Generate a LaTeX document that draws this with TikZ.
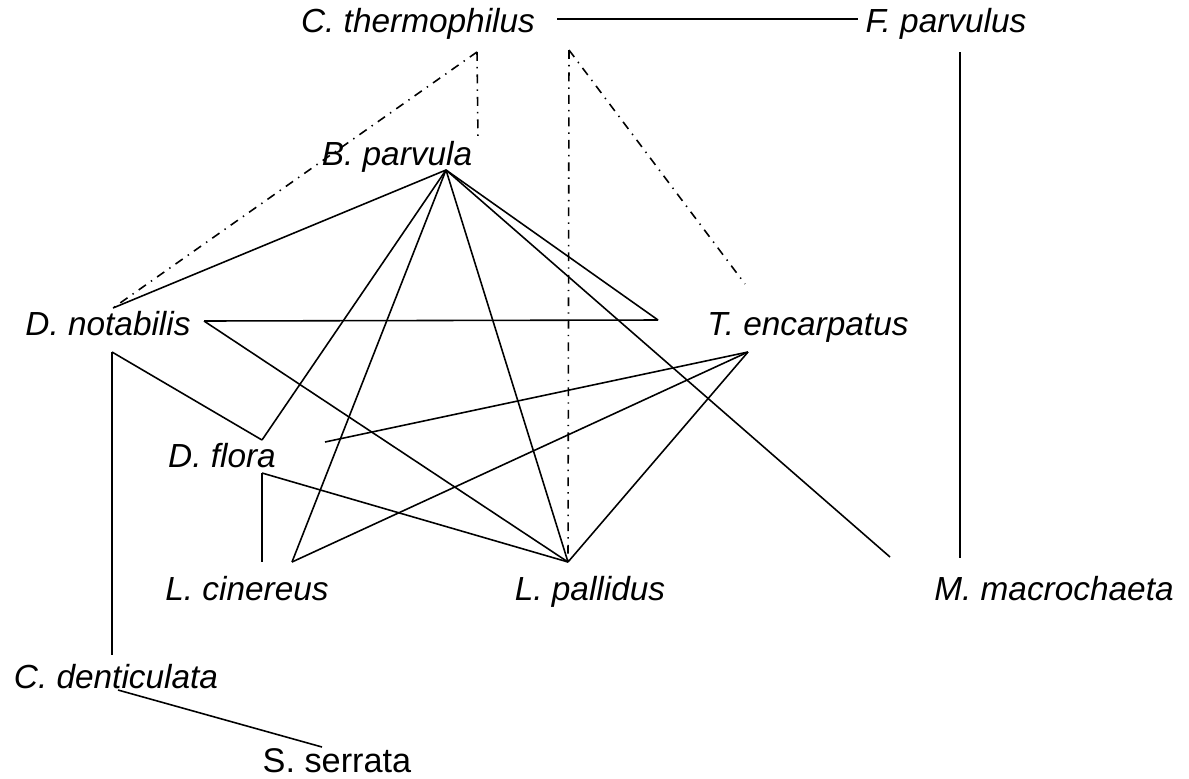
\documentclass[tikz,border=0pt]{standalone}
\usepackage{fontspec}
\setmainfont{Liberation Sans}
\begin{document}
\begin{tikzpicture}[x=0.02cm, y=-0.02cm, line width=0.9pt,
  taxon/.style={font=\fontsize{19}{22}\selectfont\itshape, anchor=base, inner sep=0pt},
  dashdot/.style={dash pattern=on 5pt off 3.5pt on 0.8pt off 3.5pt}]
  \useasboundingbox (0,0) rectangle (1189,778);
  % species labels
  \node[taxon] (therm) at (418,32) {C. thermophilus};
  \node[taxon] (fparv) at (946,32) {F. parvulus};
  \node[taxon] (bparv) at (397,165) {B. parvula};
  \node[taxon] (dnot) at (108,335) {D. notabilis};
  \node[taxon] (tenc) at (808,335) {T. encarpatus};
  \node[taxon] (dflo) at (222,467) {D. flora};
  \node[taxon] (lcin) at (247,600) {L. cinereus};
  \node[taxon] (lpal) at (590,600) {L. pallidus};
  \node[taxon] (mmac) at (1054,600) {M. macrochaeta};
  \node[taxon] (cden) at (116,688) {C. denticulata};
  \node[taxon, font=\fontsize{19.5}{22}\selectfont] (sser) at (337,772) {S. serrata};
  % line ends
  \coordinate (therm-r) at (557,19);
  \coordinate (therm-a) at (477,52);
  \coordinate (therm-b) at (569,50);
  \coordinate (fparv-l) at (858,19);
  \coordinate (fparv-b) at (960,52);
  \coordinate (bparv-t) at (478,140);
  \coordinate (bparv-b) at (446,170);
  \coordinate (dnot-t) at (113,308);
  \coordinate (dnot-r) at (204,321);
  \coordinate (dnot-b) at (112,352);
  \coordinate (tenc-t) at (745,284);
  \coordinate (tenc-l) at (658,320);
  \coordinate (tenc-b) at (748,352);
  \coordinate (dflo-t) at (262,440);
  \coordinate (dflo-r) at (325,442);
  \coordinate (dflo-b) at (262,473);
  \coordinate (lcin-l) at (262,562);
  \coordinate (lcin-t) at (292,562);
  \coordinate (lpal-t) at (568,562);
  \coordinate (mmac-l) at (890,557);
  \coordinate (mmac-t) at (960,558);
  \coordinate (cden-t) at (112,655);
  \coordinate (cden-b) at (118,690);
  \coordinate (sser-t) at (322,747);
  % solid links
  \draw (therm-r) -- (fparv-l);
  \draw (fparv-b) -- (mmac-t);
  \draw (bparv-b) -- (dnot-t);
  \draw (bparv-b) -- (dflo-t);
  \draw (bparv-b) -- (lcin-t);
  \draw (bparv-b) -- (lpal-t);
  \draw (bparv-b) -- (tenc-l);
  \draw (bparv-b) -- (mmac-l);
  \draw (dnot-r) -- (tenc-l);
  \draw (dnot-r) -- (lpal-t);
  \draw (dnot-b) -- (dflo-t);
  \draw (dnot-b) -- (cden-t);
  \draw (dflo-b) -- (lcin-l);
  \draw (dflo-b) -- (lpal-t);
  \draw (tenc-b) -- (dflo-r);
  \draw (tenc-b) -- (lcin-t);
  \draw (tenc-b) -- (lpal-t);
  \draw (cden-b) -- (sser-t);
  % dash-dot links
  \draw[dashdot] (therm-a) -- (bparv-t);
  \draw[dashdot] (therm-a) -- (dnot-t);
  \draw[dashdot] (therm-b) -- (tenc-t);
  \draw[dashdot] (therm-b) -- (lpal-t);
\end{tikzpicture}
\end{document}
